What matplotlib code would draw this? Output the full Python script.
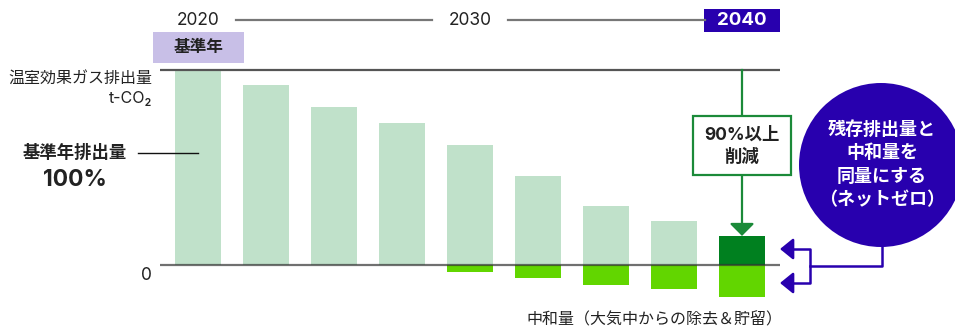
import matplotlib
matplotlib.use("Agg")
import matplotlib.pyplot as plt
import matplotlib.transforms as mtransforms
from matplotlib.patches import Rectangle, Circle
import numpy as np

plt.rcParams["font.family"] = ["Inter", "Noto Sans CJK JP", "DejaVu Sans"]

# data (% of base-year emissions)
emissions = [100, 92.3, 81.0, 72.8, 61.5, 45.6, 30.3, 22.6, 14.9]
neutralization = [0, 0, 0, 0, -3.4, -6.5, -10.0, -12.3, -16.2]
year_labels = ["2020", "2030", "2040"]
year_index = [0, 4, 8]

LIGHT = "#c0e1ca"
DARK = "#00801f"
NEG = "#62d600"
BLUE = "#2800ae"
LINE_GREEN = "#1b8a39"
TXT = "#222222"

W, H = 955, 328
fig = plt.figure(figsize=(W / 100, H / 100), dpi=100)
ax = fig.add_axes([0, 0, 1, 1])
ax.axis("off")

# bar i centred at pixel 198 + 68*i, 0% at pixel 265, 100% at pixel 70
ax.set_xlim((0 - 198) / 68, (W - 198) / 68)
ax.set_ylim((265 - H) / 195 * 100, 265 / 195 * 100)

# pixel coordinates, origin at top-left
P = mtransforms.Affine2D().scale(1 / W, -1 / H).translate(0, 1) + fig.transFigure
XP = mtransforms.blended_transform_factory(ax.transData, P)

x = np.arange(len(emissions))
colors = [LIGHT] * (len(emissions) - 1) + [DARK]
ax.bar(x, emissions, width=0.676, color=colors, zorder=2)
neg = np.array(neutralization)
ax.bar(x[neg < 0], neg[neg < 0], width=0.676, color=NEG, zorder=2)

# reference lines at 100% and 0
ax.hlines([100], x[0] - 0.56, x[-1] + 0.56, color="#555555", lw=1.6, zorder=3)
ax.hlines([0], x[0] - 0.56, x[-1] + 0.56, color="#333333", lw=1.6, alpha=0.7, zorder=3)

# timeline at the top
for lbl, i in zip(year_labels, year_index):
    if lbl == "2040":
        ax.add_patch(Rectangle((i - 0.56, 9), 1.12, 23, transform=XP, color=BLUE, lw=0))
        ax.text(i, 20.5, lbl, transform=XP, ha="center", va="center", color="white",
                fontsize=13.5, fontweight="bold")
    else:
        ax.text(i, 20.5, lbl, transform=XP, ha="center", va="center", color=TXT, fontsize=12.5)
ax.plot([236, 432], [20, 20], transform=P, color="#777777", lw=1.6)
ax.plot([508, 705], [20, 20], transform=P, color="#777777", lw=1.6)

ax.add_patch(Rectangle((153, 32), 91, 31, transform=P, color="#c8bfe7", lw=0))
ax.text(198.5, 47, "基準年", transform=P, ha="center", va="center", color=TXT,
        fontsize=12, fontweight="bold")

# left labels
ax.text(152, 78, "温室効果ガス排出量", transform=P, ha="right", va="center", color=TXT, fontsize=11.5)
ax.text(152, 99, "t-CO₂", transform=P, ha="right", va="center", color=TXT, fontsize=11.5)
ax.text(75, 153, "基準年排出量", transform=P, ha="center", va="center", color=TXT,
        fontsize=12.5, fontweight="bold")
ax.text(75, 180, "100%", transform=P, ha="center", va="center", color=TXT,
        fontsize=16.5, fontweight="bold")
ax.plot([138, 198], [153, 153], transform=P, color="#111111", lw=1)
ax.text(146, 275, "0", transform=P, ha="center", va="center", color=TXT, fontsize=12.5)

ax.text(654, 320, "中和量（大気中からの除去＆貯留）", transform=P, ha="center", va="center",
        color=TXT, fontsize=11.5)

# 90% reduction callout
ax.add_patch(Rectangle((693, 116), 98, 59, transform=P, facecolor="white",
                       edgecolor=LINE_GREEN, lw=1.6, zorder=4))
ax.text(742, 135, "90%以上", transform=P, ha="center", va="center", color=TXT,
        fontsize=12.5, fontweight="bold", zorder=5)
ax.text(742, 157, "削減", transform=P, ha="center", va="center", color=TXT,
        fontsize=12.5, fontweight="bold", zorder=5)
ax.plot([742, 742], [70, 116], transform=P, color=LINE_GREEN, lw=1.6, zorder=3)
ax.annotate("", xy=(x[-1], emissions[-1]), xycoords="data",
            xytext=(742, 175), textcoords=P,
            arrowprops=dict(arrowstyle="-|>,head_length=7.5,head_width=7.5", mutation_scale=1,
                            color=LINE_GREEN, lw=1.6, shrinkA=0, shrinkB=0))

# net-zero circle
ax.add_patch(Circle((881, 165), 82, transform=P, color=BLUE, lw=0, zorder=4))
for ty, t in zip([130, 153, 177, 200], ["残存排出量と", "中和量を", "同量にする", "（ネットゼロ）"]):
    ax.text(882, ty, t, transform=P, ha="center", va="center", color="white",
            fontsize=13, fontweight="bold", zorder=5)

# bracket arrows
ax.plot([791, 810, 810, 791], [249, 249, 283, 283], transform=P, color=BLUE, lw=1.8)
ax.plot([810, 882, 882], [266, 266, 245], transform=P, color=BLUE, lw=1.8)
for ay in [249, 283]:
    ax.annotate("", xy=(780, ay), xycoords=P, xytext=(792, ay), textcoords=P,
                arrowprops=dict(arrowstyle="-|>,head_length=8,head_width=6.5", mutation_scale=1,
                                color=BLUE, lw=1.8, shrinkA=0, shrinkB=0))

fig.savefig("out.png", dpi=100)
